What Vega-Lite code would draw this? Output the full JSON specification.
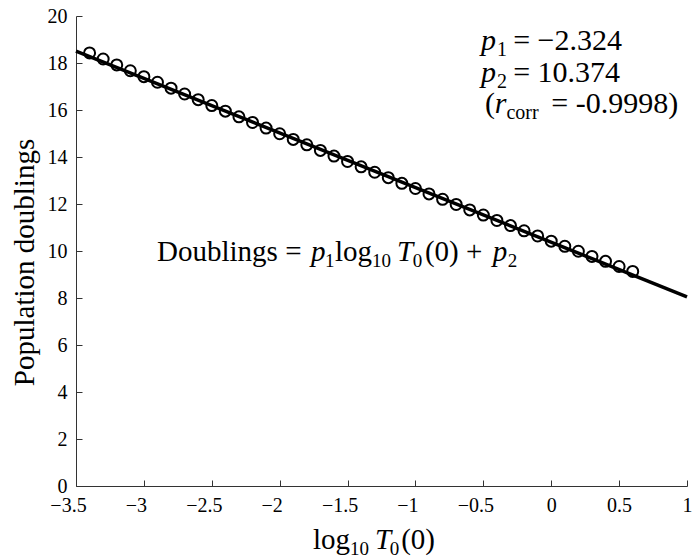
{
  "$schema": "https://vega.github.io/schema/vega-lite/v6.json",
  "width": 611,
  "height": 470,
  "autosize": {"type": "none"},
  "padding": {"left": 76, "top": 16, "right": 12, "bottom": 73},
  "background": "white",
  "config": {
    "view": {"stroke": null},
    "font": "Liberation Serif",
    "axis": {
      "grid": false,
      "labelFont": "Liberation Serif",
      "labelFontSize": 20,
      "labelColor": "black",
      "domainColor": "#333",
      "domainWidth": 1,
      "tickColor": "#333",
      "tickWidth": 1,
      "tickSize": -6,
      "labelPadding": 15,
      "titleFont": "Liberation Serif",
      "titleFontSize": 29,
      "titleFontWeight": "normal",
      "titleColor": "black"
    }
  },
  "datasets": {
    "points": [
      {"log10T0": -3.4, "doublings": 18.43},
      {"log10T0": -3.3, "doublings": 18.17},
      {"log10T0": -3.2, "doublings": 17.92},
      {"log10T0": -3.1, "doublings": 17.67},
      {"log10T0": -3.0, "doublings": 17.42},
      {"log10T0": -2.9, "doublings": 17.18},
      {"log10T0": -2.8, "doublings": 16.93},
      {"log10T0": -2.7, "doublings": 16.68},
      {"log10T0": -2.6, "doublings": 16.44},
      {"log10T0": -2.5, "doublings": 16.19},
      {"log10T0": -2.4, "doublings": 15.95},
      {"log10T0": -2.3, "doublings": 15.71},
      {"log10T0": -2.2, "doublings": 15.47},
      {"log10T0": -2.1, "doublings": 15.23},
      {"log10T0": -2.0, "doublings": 14.99},
      {"log10T0": -1.9, "doublings": 14.75},
      {"log10T0": -1.8, "doublings": 14.52},
      {"log10T0": -1.7, "doublings": 14.28},
      {"log10T0": -1.6, "doublings": 14.04},
      {"log10T0": -1.5, "doublings": 13.81},
      {"log10T0": -1.4, "doublings": 13.58},
      {"log10T0": -1.3, "doublings": 13.35},
      {"log10T0": -1.2, "doublings": 13.12},
      {"log10T0": -1.1, "doublings": 12.88},
      {"log10T0": -1.0, "doublings": 12.66},
      {"log10T0": -0.9, "doublings": 12.43},
      {"log10T0": -0.8, "doublings": 12.20},
      {"log10T0": -0.7, "doublings": 11.98},
      {"log10T0": -0.6, "doublings": 11.75},
      {"log10T0": -0.5, "doublings": 11.53},
      {"log10T0": -0.4, "doublings": 11.30},
      {"log10T0": -0.3, "doublings": 11.08},
      {"log10T0": -0.2, "doublings": 10.86},
      {"log10T0": -0.1, "doublings": 10.64},
      {"log10T0": 0.0, "doublings": 10.42},
      {"log10T0": 0.1, "doublings": 10.20},
      {"log10T0": 0.2, "doublings": 9.99},
      {"log10T0": 0.3, "doublings": 9.77},
      {"log10T0": 0.4, "doublings": 9.56},
      {"log10T0": 0.5, "doublings": 9.34},
      {"log10T0": 0.6, "doublings": 9.13}
    ],
    "fit": [
      {"log10T0": -3.5, "doublings": 18.508},
      {"log10T0": 1.0, "doublings": 8.050}
    ],
    "normal": [
      {"x": -2.903, "y": 9.57, "text": "Doublings ="},
      {"x": -1.593, "y": 9.57, "text": "log"},
      {"x": -0.93, "y": 9.57, "text": "(0) +"},
      {"x": -1.755, "y": -2.695, "text": "log"},
      {"x": -1.105, "y": -2.695, "text": "(0)"}
    ],
    "italic": [
      {"x": -1.769, "y": 9.57, "text": "p"},
      {"x": -1.136, "y": 9.57, "text": "T"},
      {"x": -0.43, "y": 9.57, "text": "p"},
      {"x": -1.298, "y": -2.695, "text": "T"}
    ],
    "sub": [
      {"x": -1.666, "y": 9.57, "text": "1"},
      {"x": -1.32, "y": 9.57, "text": "10"},
      {"x": -1.02, "y": 9.57, "text": "0"},
      {"x": -0.32, "y": 9.57, "text": "2"},
      {"x": -1.482, "y": -2.695, "text": "10"},
      {"x": -1.19, "y": -2.695, "text": "0"}
    ],
    "statsNormal": [
      {"x": -0.28, "y": 18.55, "text": "= −2.324"},
      {"x": -0.28, "y": 17.2, "text": "= 10.374"},
      {"x": -0.488, "y": 15.87, "text": "("},
      {"x": 0.0, "y": 15.87, "text": "= -0.9998)"}
    ],
    "statsItalic": [
      {"x": -0.517, "y": 18.55, "text": "p"},
      {"x": -0.517, "y": 17.2, "text": "p"},
      {"x": -0.415, "y": 15.87, "text": "r"}
    ],
    "statsSub": [
      {"x": -0.40, "y": 18.55, "text": "1"},
      {"x": -0.40, "y": 17.2, "text": "2"},
      {"x": -0.33, "y": 15.87, "text": "corr"}
    ]
  },
  "layer": [
    {
      "data": {"name": "fit"},
      "mark": {"type": "line", "color": "black", "strokeWidth": 3.5},
      "encoding": {
        "x": {
          "field": "log10T0", "type": "quantitative",
          "scale": {"domain": [-3.5, 1], "nice": false, "zero": false},
          "axis": {
            "title": null,
            "values": [-3.5, -3, -2.5, -2, -1.5, -1, -0.5, 0, 0.5, 1],
            "format": "~g",
            "labelFont": "Liberation Serif",
            "labelFontSize": 20,
            "labelFlush": false,
            "labelOffset": {"condition": {"test": "datum.value < 0", "value": -8}, "value": 0}
          }
        },
        "y": {
          "field": "doublings", "type": "quantitative",
          "scale": {"domain": [0, 20], "nice": false},
          "axis": {
            "title": "Population doublings",
            "values": [0, 2, 4, 6, 8, 10, 12, 14, 16, 18, 20],
            "labelFont": "Liberation Serif",
            "labelFontSize": 20,
            "titlePadding": 8,
            "titleY": 246
          }
        }
      }
    },
    {
      "data": {"name": "points"},
      "mark": {"type": "point", "shape": "circle", "filled": false, "color": "black", "strokeWidth": 2, "size": 121, "opacity": 1},
      "encoding": {
        "x": {"field": "log10T0", "type": "quantitative"},
        "y": {"field": "doublings", "type": "quantitative"}
      }
    },
    {
      "data": {"name": "normal"},
      "mark": {"type": "text", "align": "left", "baseline": "alphabetic", "font": "Liberation Serif", "fontSize": 29, "color": "black"},
      "encoding": {
        "x": {"field": "x", "type": "quantitative"},
        "y": {"field": "y", "type": "quantitative"},
        "text": {"field": "text"}
      }
    },
    {
      "data": {"name": "italic"},
      "mark": {"type": "text", "align": "left", "baseline": "alphabetic", "font": "Liberation Serif", "fontStyle": "italic", "fontSize": 29, "color": "black"},
      "encoding": {
        "x": {"field": "x", "type": "quantitative"},
        "y": {"field": "y", "type": "quantitative"},
        "text": {"field": "text"}
      }
    },
    {
      "data": {"name": "sub"},
      "mark": {"type": "text", "align": "left", "baseline": "alphabetic", "font": "Liberation Serif", "fontSize": 19, "dy": 6, "color": "black"},
      "encoding": {
        "x": {"field": "x", "type": "quantitative"},
        "y": {"field": "y", "type": "quantitative"},
        "text": {"field": "text"}
      }
    },
    {
      "data": {"name": "statsNormal"},
      "mark": {"type": "text", "align": "left", "baseline": "alphabetic", "font": "Liberation Serif", "fontSize": 30, "color": "black"},
      "encoding": {
        "x": {"field": "x", "type": "quantitative"},
        "y": {"field": "y", "type": "quantitative"},
        "text": {"field": "text"}
      }
    },
    {
      "data": {"name": "statsItalic"},
      "mark": {"type": "text", "align": "left", "baseline": "alphabetic", "font": "Liberation Serif", "fontStyle": "italic", "fontSize": 30, "color": "black"},
      "encoding": {
        "x": {"field": "x", "type": "quantitative"},
        "y": {"field": "y", "type": "quantitative"},
        "text": {"field": "text"}
      }
    },
    {
      "data": {"name": "statsSub"},
      "mark": {"type": "text", "align": "left", "baseline": "alphabetic", "font": "Liberation Serif", "fontSize": 20, "dy": 6, "color": "black"},
      "encoding": {
        "x": {"field": "x", "type": "quantitative"},
        "y": {"field": "y", "type": "quantitative"},
        "text": {"field": "text"}
      }
    }
  ]
}
